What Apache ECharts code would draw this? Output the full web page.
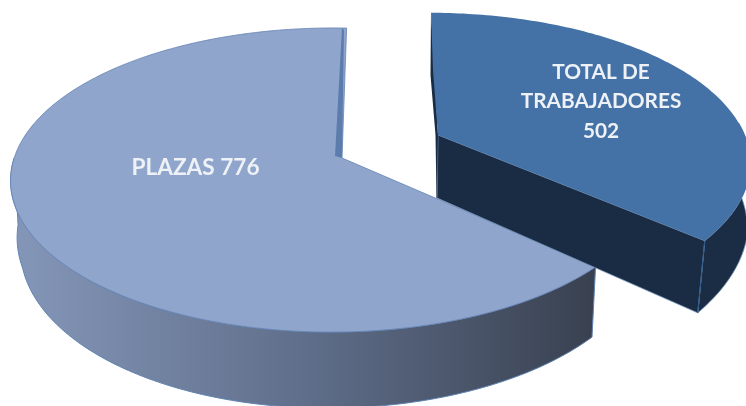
<!DOCTYPE html>
<html>
<head>
<meta charset="utf-8">
<style>html,body{margin:0;padding:0;background:#fff}#c{width:746px;height:406px}</style>
<script src="https://cdn.jsdelivr.net/npm/echarts@6/dist/echarts.min.js"></script>
</head>
<body>
<div id="c"></div>
<script>
var categories = ["PLAZAS", "TOTAL DE TRABAJADORES"];
var values = [776, 502];
var labelLines = ["PLAZAS 776", "TOTAL DE\nTRABAJADORES\n502"];
var faceColors = ["#8fa5cc", "#4471a6"];

var total = values[0] + values[1];
var smallSweep = values[1] / total * 360 * 0.94;

// Projection of each exploded slice: apex, radius and perspective terms
var views = [
  {cx: 342, cy: 158, R: 318, b: 148.8, k: 0.1447, m: -0.03, labelX: 195.5, labelY: 168, size: 22.6},
  {cx: 438, cy: 135, R: 318, b: 145.8, k: 0.193, m: -0.037, labelX: 601, labelY: 101.5, size: 20.8}
];
var wallH = 65;
var rad = Math.PI / 180;

function rim(v, deg) {
  var t = deg * rad;
  var s = 1 / (1 - v.k * Math.sin(t) - v.m * Math.cos(t));
  return {x: v.cx + v.R * Math.cos(t) * s, y: v.cy + v.b * Math.sin(t) * s, s: s};
}
function top2(v, deg) { var p = rim(v, deg); return [p.x, p.y]; }
function bottom(v, deg) {
  var p = rim(v, deg), shift;
  if (v === views[1]) {
    shift = 0.01 + 0.016 * Math.max(0, Math.min(1, (deg - 15) / 25));
  } else if (p.x < v.cx) {
    shift = Math.min(0.03, 0.012 + 0.07 * Math.max(0, Math.sin(deg * rad)));
  } else {
    shift = 0.014;
  }
  return [p.x - (p.x - v.cx) * shift, p.y + wallH * p.s];
}
function arc(fn, v, a, b) {
  var pts = [], n = Math.max(8, Math.round(Math.abs(b - a)));
  for (var i = 0; i <= n; i++) pts.push(fn(v, a + (b - a) * i / n));
  return pts;
}
function poly(points, fill, stroke, lw) {
  return {type: 'polygon', shape: {points: points},
    style: {fill: fill, stroke: stroke || null, lineWidth: lw || 0}};
}

function renderItem(params, api) {
  var idx = params.dataIndex;
  var v = views[idx];
  var children = [];
  if (idx === 0) {
    var end = smallSweep - 92 + 1.6;
    var start = end + api.value(0) / total * 360 * 1.045;
    var wall = arc(top2, v, end, 180).concat(arc(bottom, v, 180, end));
    children.push(poly(wall, new echarts.graphic.LinearGradient(18, 0, 594, 0, [
      {offset: 0, color: '#8496b8'}, {offset: 0.5, color: '#5f6e8a'}, {offset: 1, color: '#394150'}
    ], true), '#5f82b0', 1));
    var face = [[v.cx, v.cy]].concat(arc(top2, v, end, start));
    children.push(poly(face, faceColors[0], '#6484b4', 0.8));
    children.push(poly([[335, 156], [342, 158], [344, 30], [342, 28]], '#5d7cae'));
  } else {
    var s0 = -91.5, s1 = s0 + api.value(0) / total * 360 * 0.936;
    var outer = arc(top2, v, s1, -5).concat(arc(bottom, v, -5, s1));
    children.push(poly(outer, '#1b2d45', '#6f8fb5', 0.8));
    var c1 = top2(v, s1), c2 = bottom(v, s1);
    children.push(poly([[v.cx, v.cy], c1, c2, [v.cx - 1, v.cy + 63]], '#1a2c44', '#6f8fb5', 0.8));
    children.push({type: 'line', shape: {x1: c1[0], y1: c1[1], x2: c2[0], y2: c2[1]},
      style: {stroke: '#2f5a8a', lineWidth: 1}});
    children.push(poly([[v.cx - 7, v.cy - 123], [v.cx - 7.5, v.cy - 60], [v.cx - 2.5, v.cy],
      [v.cx - 1.5, v.cy + 63], [v.cx - 1, v.cy + 63], [v.cx, v.cy]], '#1a2c44'));
    children.push(poly([[v.cx, v.cy], [v.cx - 5, v.cy - 65]].concat(arc(top2, v, s0, s1)), faceColors[1]));
  }
  children.push({type: 'text', style: {
    text: labelLines[idx], x: v.labelX, y: v.labelY, fill: '#eef1f6',
    font: '700 ' + v.size + 'px Lato', lineHeight: 29.5, align: 'center', verticalAlign: 'middle'
  }});
  return {type: 'group', children: children};
}

var chart = echarts.init(document.getElementById('c'), null, {renderer: 'canvas'});
chart.setOption({
  animation: false,
  series: [{
    type: 'custom',
    coordinateSystem: 'none',
    renderItem: renderItem,
    data: values.map(function (val, i) { return {name: categories[i], value: [val]}; })
  }]
});
</script>
</body>
</html>
